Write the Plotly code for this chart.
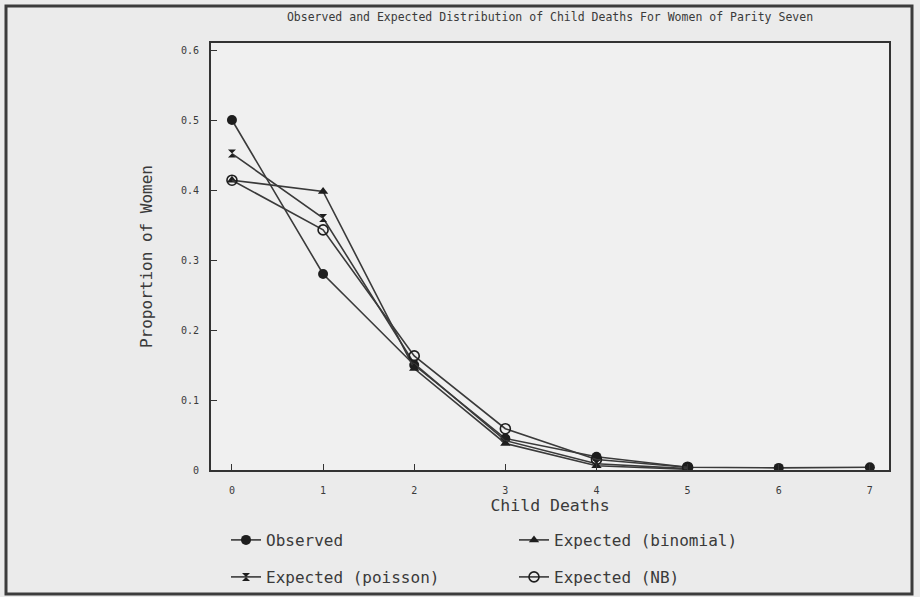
import plotly.graph_objects as go

child_deaths = [0, 1, 2, 3, 4, 5, 6, 7]
observed = [0.500, 0.280, 0.150, 0.045, 0.019, 0.004, 0.003, 0.004]
exp_binomial = [0.414, 0.398, 0.145, 0.038, 0.006, 0.001]
exp_poisson = [0.452, 0.360, 0.152, 0.042, 0.009, 0.002]
exp_nb = [0.414, 0.343, 0.163, 0.059, 0.015, 0.004]

x_ticks = [0, 1, 2, 3, 4, 5, 6, 7]
y_ticks = [0, 0.1, 0.2, 0.3, 0.4, 0.5, 0.6]
y_tick_text = ["0", "0.1", "0.2", "0.3", "0.4", "0.5", "0.6"]

LINE = "#3a3a3a"
MK = "#1e1e1e"
FONT = "DejaVu Sans Mono"
TXT = "#3a3a3a"

fig = go.Figure()
fig.add_trace(go.Scatter(x=child_deaths, y=observed, name="Observed", mode="lines+markers",
                         line=dict(color=LINE, width=1.6),
                         marker=dict(symbol="circle", size=10, color=MK), legend="legend"))
fig.add_trace(go.Scatter(x=child_deaths[:len(exp_binomial)], y=exp_binomial, name="Expected (binomial)",
                         mode="lines+markers", line=dict(color=LINE, width=1.6),
                         marker=dict(symbol="triangle-up", size=9, color=MK), legend="legend"))
fig.add_trace(go.Scatter(x=child_deaths[:len(exp_poisson)], y=exp_poisson, name="Expected (poisson)",
                         mode="lines+markers", line=dict(color=LINE, width=1.6),
                         marker=dict(symbol="hourglass", size=8, color=MK), legend="legend2"))
fig.add_trace(go.Scatter(x=child_deaths[:len(exp_nb)], y=exp_nb, name="Expected (NB)",
                         mode="lines+markers", line=dict(color=LINE, width=1.6),
                         marker=dict(symbol="circle-open", size=10, color=MK, line=dict(width=1.6)),
                         legend="legend2"))

L, R, T, B = 211, 889, 43, 470
W = R - L
H = B - T


def px(xp):
    return (xp - L) / W


def py(yp):
    return (B - yp) / H


fig.update_layout(
    width=920, height=597,
    margin=dict(l=L, r=920 - R, t=T, b=597 - B, autoexpand=False),
    paper_bgcolor="#ebebeb",
    plot_bgcolor="#f0f0f0",
    font=dict(family=FONT, color=TXT),
    title=dict(text="Observed and Expected Distribution of Child Deaths For Women of Parity Seven",
               x=0.5, xref="paper", xanchor="center", y=1 - 17 / 597, yanchor="middle",
               font=dict(size=11.5, family=FONT, color=TXT)),
    xaxis=dict(range=[-0.23, 7.21], tickvals=x_ticks, ticks="inside", ticklen=6, tickcolor="#333",
               showgrid=False, zeroline=False, showline=True, linecolor="#333", linewidth=2,
               mirror=True, tickfont=dict(size=10, family=FONT, color=TXT), ticklabelstandoff=10,
               title=dict(text="Child Deaths", font=dict(size=16.5, family=FONT, color=TXT), standoff=4)),
    yaxis=dict(range=[0, 0.61], tickvals=y_ticks, ticktext=y_tick_text, ticks="inside", ticklen=6,
               tickcolor="#333", showgrid=False, zeroline=False, showline=True, linecolor="#333",
               linewidth=2, mirror=True, tickfont=dict(size=10, family=FONT, color=TXT),
               ticklabelstandoff=8,
               title=dict(text="Proportion of Women", font=dict(size=16, family=FONT, color=TXT),
                          standoff=24)),
    legend=dict(orientation="h", x=px(226), xanchor="left", y=py(540), yanchor="middle",
                entrywidth=243, bgcolor="rgba(0,0,0,0)", font=dict(size=16, family=FONT, color=TXT)),
    legend2=dict(orientation="h", x=px(226), xanchor="left", y=py(577), yanchor="middle",
                 entrywidth=243, bgcolor="rgba(0,0,0,0)", font=dict(size=16, family=FONT, color=TXT)),
    shapes=[dict(type="rect", xref="paper", yref="paper", x0=px(6), x1=px(912), y0=py(594), y1=py(6),
                 line=dict(color="#3c3c3c", width=3), layer="below")],
)

fig.write_html("out.html")
